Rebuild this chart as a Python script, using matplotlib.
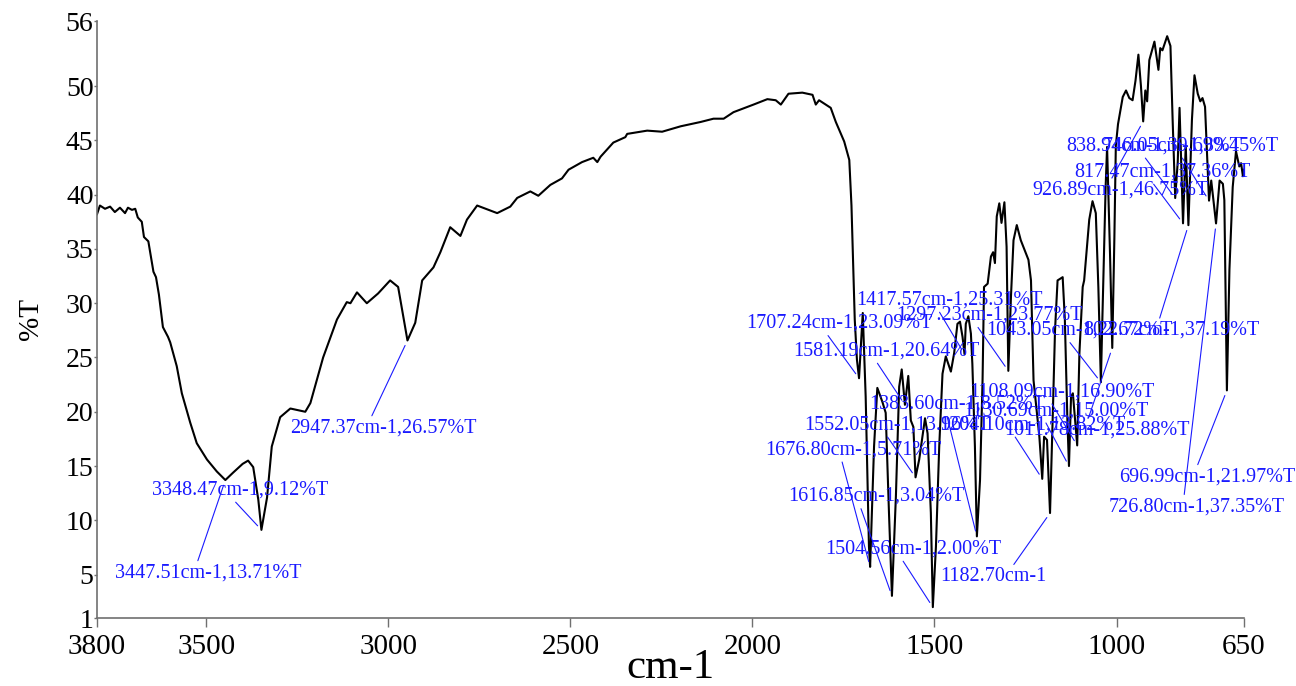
import numpy as np
import matplotlib
matplotlib.use('Agg')
import matplotlib.pyplot as plt

# 红外光谱数据（波数 cm-1，透过率 %T）
wavenumber = [3800, 3792, 3778, 3764, 3751, 3737, 3723, 3715, 3704, 3695, 3688, 3677, 3671, 3659,
              3645, 3638, 3630, 3619, 3605, 3599, 3581, 3567, 3544, 3526, 3498, 3471, 3447.51, 3426,
              3400, 3385, 3371, 3357, 3348.47, 3333, 3320, 3297, 3269, 3228, 3214, 3179, 3141, 3114,
              3104, 3086, 3059, 3028, 2995, 2973, 2947.37, 2926, 2907, 2894, 2876, 2857, 2830, 2802,
              2784, 2756, 2701, 2665, 2646, 2610, 2588, 2555, 2523, 2505, 2468, 2437, 2426, 2417,
              2382, 2349, 2344, 2289, 2248, 2197, 2142, 2107, 2079, 2052, 1997, 1959, 1936, 1922,
              1901, 1863, 1835, 1826, 1817, 1785, 1771, 1748, 1734, 1728, 1723, 1719, 1713, 1707.24,
              1697, 1689, 1680, 1676.80, 1666, 1657, 1643, 1634, 1625, 1616.85, 1606, 1597, 1590,
              1581.19, 1572, 1565, 1558, 1552.05, 1542, 1533, 1526, 1519, 1510, 1504.56, 1496, 1487,
              1478, 1469, 1460, 1455, 1446, 1437, 1430, 1423, 1417.57, 1414, 1407, 1400, 1396, 1389,
              1383.60, 1375, 1368, 1364, 1354, 1345, 1339, 1334, 1329, 1322, 1316, 1308, 1302,
              1297.23, 1290, 1283, 1274, 1263, 1256, 1242, 1235, 1228, 1212, 1204.10, 1199, 1191,
              1182.70, 1175, 1169, 1162, 1148, 1142, 1135, 1130.69, 1125, 1120, 1108.09, 1102, 1093,
              1089, 1075, 1066, 1057, 1050, 1043.05, 1039, 1030, 1026, 1018, 1011.78, 1006, 1002,
              996, 983, 974, 965, 956, 948, 940, 933, 926.89, 921, 916, 910, 896, 885, 880, 874, 861,
              852, 846, 838.94, 832, 827, 817.47, 810, 802.67, 793, 786, 777, 770, 764, 757, 746.05,
              740, 726.80, 717, 708, 704, 696.99, 690, 681, 672, 663, 658, 653, 650]
transmittance = [38.2, 39.0, 38.7, 38.9, 38.4, 38.8, 38.3, 38.8, 38.6, 38.7, 37.9, 37.5, 36.1, 35.7,
                 32.9, 32.4, 30.8, 27.8, 26.9, 26.4, 24.2, 21.7, 19.0, 17.1, 15.6, 14.5, 13.71, 14.4,
                 15.2, 15.5, 14.9, 11.9, 9.12, 12.1, 16.8, 19.5, 20.3, 20.0, 20.8, 25.0, 28.5, 30.1,
                 30.0, 31.0, 30.0, 30.9, 32.1, 31.5, 26.57, 28.2, 32.1, 32.6, 33.3, 34.7, 37.0, 36.2,
                 37.7, 39.0, 38.3, 38.9, 39.7, 40.3, 39.9, 40.9, 41.5, 42.3, 43.0, 43.4, 43.0, 43.5,
                 44.8, 45.3, 45.6, 45.9, 45.8, 46.3, 46.7, 47.0, 47.0, 47.6, 48.3, 48.8, 48.7, 48.3,
                 49.3, 49.4, 49.2, 48.3, 48.7, 48.0, 46.7, 44.9, 43.2, 39.0, 33.0, 28.5, 24.8, 23.09,
                 29.1, 21.4, 7.6, 5.71, 16.8, 22.2, 20.9, 19.9, 10.7, 3.04, 12.2, 22.3, 23.9,
                 20.64, 23.3, 19.2, 18.6, 13.96, 15.6, 17.7, 19.4, 18.0, 10.7, 2.00, 7.6, 16.8,
                 23.5, 25.1, 24.2, 23.7, 25.4, 28.1, 28.3, 26.9, 25.31, 28.1, 28.8, 27.2, 24.4, 16.8,
                 8.52, 13.7, 22.9, 31.5, 31.8, 34.3, 34.7, 33.7, 38.0, 39.2, 37.4, 39.3, 35.2,
                 23.77, 30.6, 35.8, 37.2, 35.8, 35.2, 34.0, 32.1, 22.9, 17.7, 13.82, 17.7, 17.4,
                 10.67, 19.9, 27.5, 32.1, 32.4, 28.5, 19.2, 15.00, 21.4, 21.7, 16.90, 25.4, 31.5,
                 32.1, 37.7, 39.4, 38.3, 31.5, 22.72, 28.5, 40.7, 44.4, 34.6, 25.88, 36.0, 44.5,
                 46.5, 49.0, 49.6, 48.9, 48.7, 50.5, 52.9, 50.0, 46.75, 49.6, 48.6, 52.4, 54.1, 51.5, 53.5, 53.3, 54.6,
                 53.7, 46.9, 39.69, 43.0, 48.0, 37.36, 44.5, 37.19, 46.9, 51.0, 49.3, 48.6, 48.9, 48.1, 39.45,
                 41.3, 37.35, 41.3, 41.0, 39.5, 21.97, 33.1, 40.7, 44.0, 42.6, 42.9, 41.7, 42.3]

# 标注峰
peak_wn = [3447.51, 3348.47, 2947.37, 1707.24, 1676.80, 1616.85, 1581.19, 1552.05, 1504.56,
           1417.57, 1383.60, 1297.23, 1204.10, 1182.70, 1130.69, 1108.09, 1043.05, 1011.78,
           926.89, 838.94, 817.47, 802.67, 746.05, 726.80, 696.99]
peak_t = [13.71, 9.12, 26.57, 23.09, 5.71, 3.04, 20.64, 13.96, 2.00,
          25.31, 8.52, 23.77, 13.82, 10.67, 15.00, 16.90, 22.72, 25.88,
          46.75, 39.69, 37.36, 37.19, 39.45, 37.35, 21.97]
peak_labels = ['%.2fcm-1,%.2f%%T' % (w, t) for w, t in zip(peak_wn, peak_t)]
peak_labels[13] = '1182.70cm-1'

# 标注文字位置（左端，垂直居中）以及引线起点
label_pos = [(3751, 5.15), (3649, 12.8), (3269, 18.5), (2018, 28.15), (1964, 16.5), (1903, 12.2),
             (1887, 25.6), (1859, 18.8), (1799, 7.36), (1716, 30.3), (1680, 20.7), (1606, 28.9),
             (1488, 18.8), (1483, 4.8), (1422, 20.1), (1406, 21.85), (1359, 27.5), (1309, 18.3),
             (1230, 40.4), (1139, 44.5), (1117, 42.1), (1092, 27.5), (1037, 44.5), (1023, 11.25),
             (993, 14.0)]
label_rel = [(0.44, 1.0), (0.44, 0.2), (0.43, 1.0), (0.43, 0.0), (0.43, 0.0), (0.41, 0.0),
             (0.44, 0.0), (0.44, 0.0), (0.43, 0.0), (0.44, 0.0), (0.44, 0.0), (0.43, 0.0),
             (0.40, 0.0), (0.67, 1.0), (0.44, 0.0), (0.44, 0.0), (0.44, 0.0), (0.45, 1.0),
             (0.44, 1.0), (0.44, 0.0), (0.44, 0.0), (0.43, 1.0), (0.44, 0.0), (0.43, 1.0),
             (0.44, 1.0)]

plt.rcParams['font.family'] = ['Liberation Serif', 'DejaVu Serif']

fig = plt.figure(figsize=(12.96, 6.86), dpi=100)
ax = fig.add_axes([97 / 1296, 68 / 686, 1147 / 1296, 597 / 686])

ax.plot(wavenumber, transmittance, color='black', linewidth=1.5)

for i in range(len(peak_wn)):
    ax.annotate(peak_labels[i], xy=(peak_wn[i], peak_t[i]), xytext=label_pos[i],
                textcoords='data', ha='left', va='center', fontsize=14.5, color='#1a1aff',
                annotation_clip=False,
                arrowprops=dict(arrowstyle='-', color='#1a1aff', lw=0.8,
                                shrinkA=0, shrinkB=4, relpos=label_rel[i]))

ax.set_xlim(3800, 650)
ax.set_ylim(1, 56)
ax.set_xticks([3800, 3500, 3000, 2500, 2000, 1500, 1000, 650])
ax.set_yticks([1, 5, 10, 15, 20, 25, 30, 35, 40, 45, 50, 56])
ax.tick_params(axis='x', direction='out', length=6.5, width=1, colors='#707070',
               labelcolor='black', labelsize=21, pad=5)
ax.tick_params(axis='y', direction='out', length=2.5, width=1, colors='#707070',
               labelcolor='black', labelsize=20, pad=0)

for side in ['top', 'right']:
    ax.spines[side].set_visible(False)
for side in ['left', 'bottom']:
    ax.spines[side].set_color('#707070')
    ax.spines[side].set_linewidth(1.2)

ax.set_xlabel('cm-1', fontsize=31, labelpad=-8)
ax.set_ylabel('%T', fontsize=21, labelpad=16)

fig.savefig('out.png', dpi=100)
